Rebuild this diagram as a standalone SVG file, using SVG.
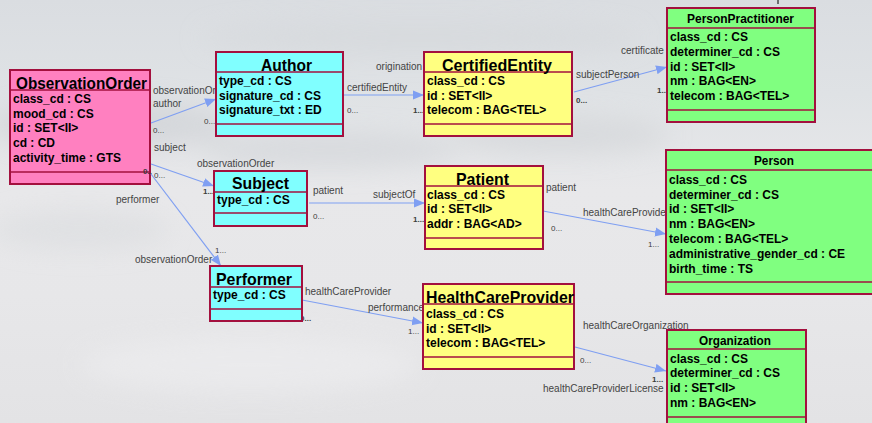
<svg xmlns="http://www.w3.org/2000/svg" width="872" height="423" viewBox="0 0 872 423">
  <defs>
    <linearGradient id="sky" x1="0" y1="0" x2="0" y2="1">
      <stop offset="0" stop-color="#dadde1"/>
      <stop offset="0.22" stop-color="#dfe2e5"/>
      <stop offset="0.45" stop-color="#e8e8ea"/>
      <stop offset="0.7" stop-color="#e7e7e9"/>
      <stop offset="1" stop-color="#e3e3e5"/>
    </linearGradient>
    <filter id="haze" x="-50%" y="-50%" width="200%" height="200%">
      <feGaussianBlur stdDeviation="12"/>
    </filter>
    <marker id="arrow" markerWidth="12" markerHeight="10" refX="11" refY="5" orient="auto" markerUnits="userSpaceOnUse">
      <path d="M0,0.5 L11,5 L0,9.5 Z" fill="#7f9ff2"/>
    </marker>
    <style>
      .box { stroke: #a3103e; stroke-width: 2; }
      .sep { stroke: #a3103e; stroke-width: 1.5; }
      .pink { fill: #ff80c0; }
      .cyan { fill: #80ffff; }
      .yellow { fill: #ffff80; }
      .green { fill: #80ff80; }
      .title { font-family: "Liberation Sans", Arial, sans-serif; font-weight: bold; font-size: 17px; fill: #000; }
      .stitle { font-family: "Liberation Sans", Arial, sans-serif; font-weight: bold; font-size: 12.5px; fill: #000; }
      .attr { font-family: "Liberation Sans", Arial, sans-serif; font-weight: bold; font-size: 12px; fill: #000; }
      .conn { stroke: #7f9ff2; stroke-width: 1.2; fill: none; marker-end: url(#arrow); }
      .role { font-family: "Liberation Sans", Arial, sans-serif; font-size: 10px; fill: #444; }
      .mult { font-family: "Liberation Sans", Arial, sans-serif; font-size: 8px; fill: #3c3c3c; }
    </style>
  </defs>

  <!-- sky backdrop -->
  <rect x="0" y="0" width="872" height="423" fill="url(#sky)"/>
  <g filter="url(#haze)" opacity="0.55">
    <ellipse cx="110" cy="125" rx="120" ry="24" fill="#cbced2"/>
    <ellipse cx="330" cy="150" rx="130" ry="18" fill="#cfd2d6"/>
    <ellipse cx="560" cy="135" rx="110" ry="20" fill="#d0d3d6"/>
    <ellipse cx="420" cy="38" rx="220" ry="18" fill="#d4d7da"/>
    <ellipse cx="80" cy="230" rx="90" ry="20" fill="#d9dbde"/>
    <ellipse cx="250" cy="365" rx="170" ry="28" fill="#efeff1"/>
  </g>

  <!-- ObservationOrder -->
  <g id="ObservationOrder">
    <rect class="box pink" x="10" y="70" width="140" height="114"/>
    <line class="sep" x1="10" y1="90" x2="150" y2="90"/>
    <line class="sep" x1="10" y1="172" x2="150" y2="172"/>
    <text class="title" x="16" y="89" textLength="131" lengthAdjust="spacingAndGlyphs">ObservationOrder</text>
    <text class="attr" x="13" y="103">class_cd : CS</text>
    <text class="attr" x="13" y="117.5">mood_cd : CS</text>
    <text class="attr" x="13" y="132">id : SET&lt;II&gt;</text>
    <text class="attr" x="13" y="147">cd : CD</text>
    <text class="attr" x="13" y="162">activity_time : GTS</text>
  </g>

  <!-- associations -->
  <g id="connectors">
    <!-- ObservationOrder to Author -->
    <line class="conn" x1="151" y1="123" x2="216" y2="99"/>
    <text class="role" x="153" y="94">observationOrder</text>
    <text class="role" x="153" y="107">author</text>
    <text class="mult" x="153" y="133">0...</text>
    <text class="mult" x="204" y="124">0...</text>

    <!-- Author to CertifiedEntity -->
    <line class="conn" x1="343" y1="95" x2="424" y2="95"/>
    <text class="role" x="376" y="70">origination</text>
    <text class="role" x="347" y="91">certifiedEntity</text>
    <text class="mult" x="347" y="113">0...</text>
    <text class="mult" x="413" y="113" font-weight="bold">1...</text>

    <!-- CertifiedEntity to PersonPractitioner -->
    <line class="conn" x1="574" y1="92" x2="667" y2="67"/>
    <text class="role" x="621" y="54">certificate</text>
    <text class="role" x="576" y="78">subjectPerson</text>
    <text class="mult" x="576" y="103" font-weight="bold">0...</text>
    <text class="mult" x="657" y="93" font-weight="bold">1...</text>

    <!-- ObservationOrder to Subject -->
    <line class="conn" x1="151" y1="164" x2="214" y2="186"/>
    <text class="role" x="154" y="151">subject</text>
    <text class="role" x="197" y="167">observationOrder</text>
    <text class="mult" x="143" y="174" font-weight="bold">0..</text>
    <text class="mult" x="154" y="178">0...</text>
    <text class="mult" x="203" y="194" font-weight="bold">1...</text>

    <!-- ObservationOrder to Performer -->
    <line class="conn" x1="151" y1="174" x2="221" y2="266"/>
    <text class="role" x="116" y="203">performer</text>
    <text class="role" x="135" y="263">observationOrder</text>
    <text class="mult" x="215" y="253">1...</text>

    <!-- Subject to Patient -->
    <line class="conn" x1="309" y1="203" x2="425" y2="203"/>
    <text class="role" x="313" y="194">patient</text>
    <text class="role" x="373" y="198">subjectOf</text>
    <text class="mult" x="313" y="219">0...</text>
    <text class="mult" x="413" y="222" font-weight="bold">1...</text>

    <!-- Patient to Person -->
    <line class="conn" x1="543" y1="211" x2="666" y2="234"/>
    <text class="role" x="546" y="191">patient</text>
    <text class="role" x="583" y="216">healthCareProvider</text>
    <text class="mult" x="551" y="231">0...</text>
    <text class="mult" x="648" y="247">1...</text>

    <!-- Performer to HealthCareProvider -->
    <line class="conn" x1="302" y1="300" x2="423" y2="323"/>
    <text class="role" x="305" y="295">healthCareProvider</text>
    <text class="role" x="368" y="311">performance</text>
    <text class="mult" x="300" y="321" font-weight="bold">0...</text>
    <text class="mult" x="408" y="334">1...</text>

    <!-- HealthCareProvider to Organization -->
    <line class="conn" x1="575" y1="347" x2="666" y2="371"/>
    <text class="role" x="583" y="329">healthCareOrganization</text>
    <text class="mult" x="580" y="363">0...</text>
    <text class="mult" x="652" y="382" font-weight="bold">1...</text>
    <text class="role" x="543" y="392">healthCareProviderLicense</text>
  </g>

  <!-- Author -->
  <g id="Author">
    <rect class="box cyan" x="216" y="52" width="127" height="84"/>
    <line class="sep" x1="216" y1="72" x2="343" y2="72"/>
    <line class="sep" x1="216" y1="124" x2="343" y2="124"/>
    <text class="title" x="261" y="71" textLength="51" lengthAdjust="spacingAndGlyphs">Author</text>
    <text class="attr" x="219" y="85">type_cd : CS</text>
    <text class="attr" x="219" y="99.5">signature_cd : CS</text>
    <text class="attr" x="219" y="114">signature_txt : ED</text>
  </g>

  <!-- CertifiedEntity -->
  <g id="CertifiedEntity">
    <rect class="box yellow" x="424" y="52" width="148" height="84"/>
    <line class="sep" x1="424" y1="72" x2="572" y2="72"/>
    <line class="sep" x1="424" y1="124" x2="572" y2="124"/>
    <text class="title" x="442" y="71" textLength="110" lengthAdjust="spacingAndGlyphs">CertifiedEntity</text>
    <text class="attr" x="427" y="85">class_cd : CS</text>
    <text class="attr" x="427" y="99.5">id : SET&lt;II&gt;</text>
    <text class="attr" x="427" y="114">telecom : BAG&lt;TEL&gt;</text>
  </g>

  <!-- PersonPractitioner -->
  <g id="PersonPractitioner">
    <line x1="778" y1="0" x2="778" y2="4" stroke="#000" stroke-width="1"/>
    <rect class="box green" x="667" y="8" width="148" height="114"/>
    <line class="sep" x1="667" y1="28" x2="815" y2="28"/>
    <line class="sep" x1="667" y1="110" x2="815" y2="110"/>
    <text class="stitle" x="687" y="23" textLength="107" lengthAdjust="spacingAndGlyphs">PersonPractitioner</text>
    <text class="attr" x="670" y="40.5">class_cd : CS</text>
    <text class="attr" x="670" y="55.5">determiner_cd : CS</text>
    <text class="attr" x="670" y="70.5">id : SET&lt;II&gt;</text>
    <text class="attr" x="670" y="85">nm : BAG&lt;EN&gt;</text>
    <text class="attr" x="670" y="100">telecom : BAG&lt;TEL&gt;</text>
  </g>

  <!-- Subject -->
  <g id="Subject">
    <rect class="box cyan" x="214" y="171" width="93" height="55"/>
    <line class="sep" x1="214" y1="192" x2="307" y2="192"/>
    <line class="sep" x1="214" y1="213" x2="307" y2="213"/>
    <text class="title" x="232" y="189" textLength="57" lengthAdjust="spacingAndGlyphs">Subject</text>
    <text class="attr" x="217" y="203.5">type_cd : CS</text>
  </g>

  <!-- Patient -->
  <g id="Patient">
    <rect class="box yellow" x="425" y="166" width="118" height="83"/>
    <line class="sep" x1="425" y1="186" x2="543" y2="186"/>
    <line class="sep" x1="425" y1="238" x2="543" y2="238"/>
    <text class="title" x="456" y="185" textLength="53" lengthAdjust="spacingAndGlyphs">Patient</text>
    <text class="attr" x="427" y="198.5">class_cd : CS</text>
    <text class="attr" x="427" y="213">id : SET&lt;II&gt;</text>
    <text class="attr" x="427" y="227.5">addr : BAG&lt;AD&gt;</text>
  </g>

  <!-- Person -->
  <g id="Person">
    <rect class="box green" x="666" y="150" width="216" height="144"/>
    <line class="sep" x1="666" y1="170" x2="882" y2="170"/>
    <line class="sep" x1="666" y1="282" x2="882" y2="282"/>
    <text class="stitle" x="754" y="165" textLength="40" lengthAdjust="spacingAndGlyphs">Person</text>
    <text class="attr" x="669" y="184">class_cd : CS</text>
    <text class="attr" x="669" y="198.5">determiner_cd : CS</text>
    <text class="attr" x="669" y="213">id : SET&lt;II&gt;</text>
    <text class="attr" x="669" y="228">nm : BAG&lt;EN&gt;</text>
    <text class="attr" x="669" y="242.5">telecom : BAG&lt;TEL&gt;</text>
    <text class="attr" x="669" y="257.5">administrative_gender_cd : CE</text>
    <text class="attr" x="669" y="272.5">birth_time : TS</text>
  </g>

  <!-- Performer -->
  <g id="Performer">
    <rect class="box cyan" x="210" y="266" width="92" height="55"/>
    <line class="sep" x1="210" y1="287" x2="302" y2="287"/>
    <line class="sep" x1="210" y1="309" x2="302" y2="309"/>
    <text class="title" x="216" y="285" textLength="76" lengthAdjust="spacingAndGlyphs">Performer</text>
    <text class="attr" x="213" y="298.5">type_cd : CS</text>
  </g>

  <!-- HealthCareProvider -->
  <g id="HealthCareProvider">
    <rect class="box yellow" x="423" y="284" width="151" height="85"/>
    <line class="sep" x1="423" y1="304" x2="574" y2="304"/>
    <line class="sep" x1="423" y1="357" x2="574" y2="357"/>
    <text class="title" x="426" y="303" textLength="148" lengthAdjust="spacingAndGlyphs">HealthCareProvider</text>
    <text class="attr" x="426" y="317.5">class_cd : CS</text>
    <text class="attr" x="426" y="332.5">id : SET&lt;II&gt;</text>
    <text class="attr" x="426" y="347">telecom : BAG&lt;TEL&gt;</text>
  </g>

  <!-- Organization -->
  <g id="Organization">
    <rect class="box green" x="667" y="330" width="139" height="100"/>
    <line class="sep" x1="667" y1="349" x2="806" y2="349"/>
    <line class="sep" x1="667" y1="417" x2="806" y2="417"/>
    <text class="stitle" x="699" y="345" textLength="72" lengthAdjust="spacingAndGlyphs">Organization</text>
    <text class="attr" x="670" y="362.5">class_cd : CS</text>
    <text class="attr" x="670" y="377">determiner_cd : CS</text>
    <text class="attr" x="670" y="392">id : SET&lt;II&gt;</text>
    <text class="attr" x="670" y="406.5">nm : BAG&lt;EN&gt;</text>
  </g>
</svg>
